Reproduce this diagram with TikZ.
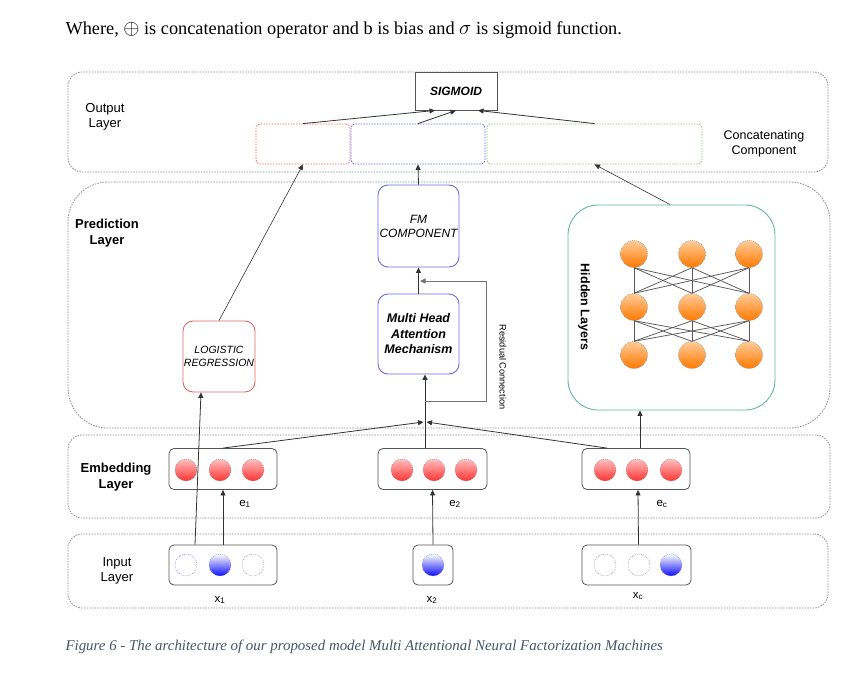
\documentclass[tikz,border=0pt]{standalone}
\usepackage{fontspec}
\setmainfont{Liberation Serif}
\setsansfont{Liberation Sans}
\usetikzlibrary{arrows.meta,calc,positioning}

\definecolor{layergray}{HTML}{8C8C8C}
\definecolor{boxgray}{HTML}{555555}
\definecolor{linegray}{HTML}{333333}
\definecolor{lrred}{HTML}{E06666}
\definecolor{fmblue}{HTML}{6A6AE6}
\definecolor{hidgreen}{HTML}{62B894}
\definecolor{capblue}{HTML}{44546A}

\newcommand{\lblfont}{\sffamily\fontsize{13}{15.5}\selectfont}
\newcommand{\bigsym}[1]{{\fontsize{22}{22}\selectfont$#1$}}

\begin{document}
\begin{tikzpicture}[x=1pt, y=-1pt,
  layer/.style={draw=layergray, line width=0.8pt, dash pattern=on 1.5pt off 1.2pt, rounded corners=14pt, inner sep=0pt},
  concat/.style={draw=#1, line width=0.8pt, dash pattern=on 1.5pt off 1.2pt, rounded corners=4pt, minimum height=40pt, inner sep=0pt},
  comp/.style={draw=#1, line width=0.9pt, rounded corners=10pt, fill=white, inner sep=0pt, align=center},
  holder/.style={draw=boxgray, line width=0.8pt, rounded corners=5pt, minimum height=40pt, inner sep=0pt},
  redball/.style={circle, minimum size=22pt, inner sep=0pt, draw=layergray, dash pattern=on 1pt off 1pt, top color=red!25, bottom color=red!80},
  blueball/.style={circle, minimum size=22pt, inner sep=0pt, draw=layergray, dash pattern=on 1pt off 1pt, top color=white, bottom color=blue!95},
  emptyball/.style={circle, minimum size=22pt, inner sep=0pt, draw=#1, dash pattern=on 1pt off 1pt},
  neuron/.style={circle, minimum size=27pt, inner sep=0pt, draw=layergray, dash pattern=on 1pt off 1pt, top color=orange!40, bottom color=orange!95!red},
  arr/.style={-{Triangle[length=5.5pt,width=5pt]}, draw=linegray, line width=0.8pt},
  mesh/.style={draw=black!65, line width=0.75pt},
  sublbl/.style={font=\sffamily\fontsize{11.5}{13}\selectfont}]

  \useasboundingbox (0,0) rectangle (850,676);

  % Title and caption
  \node[anchor=west, font=\rmfamily\fontsize{18.3}{21}\selectfont] (title) at (62,30) {Where, \bigsym{\oplus} is concatenation operator and b is bias and \bigsym{\sigma}\ is sigmoid function.};
  \node[anchor=west, text=capblue, font=\rmfamily\itshape\fontsize{14.9}{17}\selectfont] (caption) at (62,647) {Figure 6 - The architecture of our proposed model Multi Attentional Neural Factorization Machines};

  % Layers
  \node[layer, minimum width=760pt, minimum height=100pt] (outlayer) at (448,122) {};
  \node[layer, rounded corners=40pt, minimum width=762pt, minimum height=246pt] (predlayer) at (449,305) {};
  \node[layer, minimum width=762pt, minimum height=83pt] (emblayer) at (449,476.5) {};
  \node[layer, minimum width=760pt, minimum height=74pt] (inlayer) at (448,571) {};

  \node[align=center, font=\lblfont] (outlbl) at (105,117) {Output\\Layer};
  \node[align=center, font=\lblfont\bfseries] (predlbl) at (107,233) {Prediction\\Layer};
  \node[align=center, font=\lblfont\bfseries] (emblbl) at (116,477) {Embedding\\Layer};
  \node[align=center, font=\lblfont] (inlbl) at (117,571) {Input\\Layer};
  \node[align=center, font=\sffamily\fontsize{12.5}{15}\selectfont] (conclbl) at (764,144) {Concatenating\\Component};

  % Output part
  \node[draw=boxgray, line width=0.9pt, fill=white, minimum width=82pt, minimum height=38pt, inner sep=0pt, font=\sffamily\bfseries\itshape\fontsize{12}{14}\selectfont] (sigmoid) at (456,91) {SIGMOID};
  \node[concat=red!60, minimum width=94pt] (cred) at (303,144) {};
  \node[concat=blue!60, minimum width=134pt] (cblue) at (418,144) {};
  \node[concat=green!50!black!45, minimum width=215pt] (cgreen) at (594.5,144) {};

  % Prediction part
  \node[comp=lrred, minimum width=72pt, minimum height=71pt, font=\sffamily\itshape\fontsize{10.5}{13}\selectfont] (lr) at (219,356.5) {LOGISTIC\\REGRESSION};
  \node[comp=fmblue, minimum width=81pt, minimum height=82pt, font=\sffamily\itshape\fontsize{12}{14}\selectfont] (fm) at (418.5,226) {FM\\COMPONENT};
  \node[comp=fmblue, minimum width=81pt, minimum height=80pt, font=\sffamily\bfseries\itshape\fontsize{12.5}{15.5}\selectfont] (mha) at (418.5,334) {Multi Head\\Attention\\Mechanism};
  \node[comp=hidgreen, rounded corners=30pt, minimum width=207pt, minimum height=205pt] (hidden) at (671.5,307.5) {};
  \node[rotate=-90, font=\sffamily\bfseries\fontsize{12.5}{15}\selectfont] (hidlbl) at (584,307) {Hidden Layers};
  \node[rotate=-90, font=\sffamily\fontsize{9.2}{11}\selectfont] (reslbl) at (503,367) {Residual Connection};

  % Hidden neurons
  \foreach \r/\y in {1/254,2/307,3/355}
    \foreach \c/\x in {1/634,2/692,3/749}
      \node[neuron] (n\r\c) at (\x,\y) {};
  \foreach \a in {1,2,3}
    \foreach \b in {1,2,3} {
      \draw[mesh] (n1\a.south) -- (n2\b.north);
      \draw[mesh] (n2\a.south) -- (n3\b.north);
    }

  % Embedding boxes
  \node[holder, minimum width=108pt, minimum height=41pt] (e1) at (223,469) {};
  \node[holder, minimum width=109pt, minimum height=41pt] (e2) at (432.5,469) {};
  \node[holder, minimum width=108pt, minimum height=41pt] (ec) at (636,469) {};
  \foreach \i/\x in {a/186,b/220,c/253} \node[redball] (e1\i) at (\x,470) {};
  \foreach \i/\x in {a/402,b/434,c/466} \node[redball] (e2\i) at (\x,470) {};
  \foreach \i/\x in {a/605,b/637,c/671} \node[redball] (ec\i) at (\x,470) {};
  \node[sublbl] (le1) at (245,504) {e\textsubscript{1}};
  \node[sublbl] (le2) at (455,504) {e\textsubscript{2}};
  \node[sublbl] (lec) at (662,504) {e\textsubscript{c}};

  % Input boxes
  \node[holder, minimum width=108pt] (x1) at (223,565) {};
  \node[holder, minimum width=40pt] (x2) at (433,565) {};
  \node[holder, minimum width=109pt] (xc) at (636.5,565) {};
  \node[emptyball=blue!55] (x1a) at (186,565) {};
  \node[blueball] (x1b) at (220,565) {};
  \node[emptyball=layergray] (x1c) at (253,565) {};
  \node[blueball] (x2a) at (433,565) {};
  \node[emptyball=layergray] (xca) at (605,565) {};
  \node[emptyball=layergray] (xcb) at (639,565) {};
  \node[blueball] (xcc) at (671,565) {};
  \node[sublbl] (lx1) at (220,600) {x\textsubscript{1}};
  \node[sublbl] (lx2) at (432,600) {x\textsubscript{2}};
  \node[sublbl] (lxc) at (638,596) {x\textsubscript{c}};

  % Connectors
  \coordinate (join) at (425,422);
  \coordinate (resid) at (425,401);
  \coordinate (fmin) at (420,281);

  \draw[arr] (x1.north) -- (e1.south);
  \draw[arr] (x2.north) -- (e2.south);
  \draw[arr] ([xshift=2pt]xc.north) -- ([xshift=2pt]ec.south);
  \draw[arr] ([xshift=-28pt]x1.north) -- ([xshift=-18pt]lr.south);

  \draw[arr] (e1.north) -- ([xshift=-1.5pt]join);
  \draw[arr] ([xshift=-29pt]ec.north) -- ([xshift=1.5pt]join);
  \draw[arr] ([xshift=-7.5pt]e2.north) -- ([xshift=6.5pt]mha.south);
  \draw[arr, draw=black!55, line width=1pt] (resid) -- ++(61,0) |- (fmin);
  \draw[arr] ([xshift=4pt]ec.north) -- ([xshift=4pt]ec.north |- hidden.south);

  \draw[arr] (mha.north) -- (fm.south);
  \draw[arr, line width=0.6pt] (lr.north) -- (cred.south);
  \draw[arr] (fm.north) -- (cblue.south);
  \draw[arr, line width=0.6pt] ([xshift=-1.5pt]hidden.north) -- (cgreen.south);

  \draw[arr] (cred.north) -- ([xshift=-21pt]sigmoid.south);
  \draw[arr] (cblue.north) -- (sigmoid.south);
  \draw[arr] (cgreen.north) -- ([xshift=22pt]sigmoid.south);
\end{tikzpicture}
\end{document}
